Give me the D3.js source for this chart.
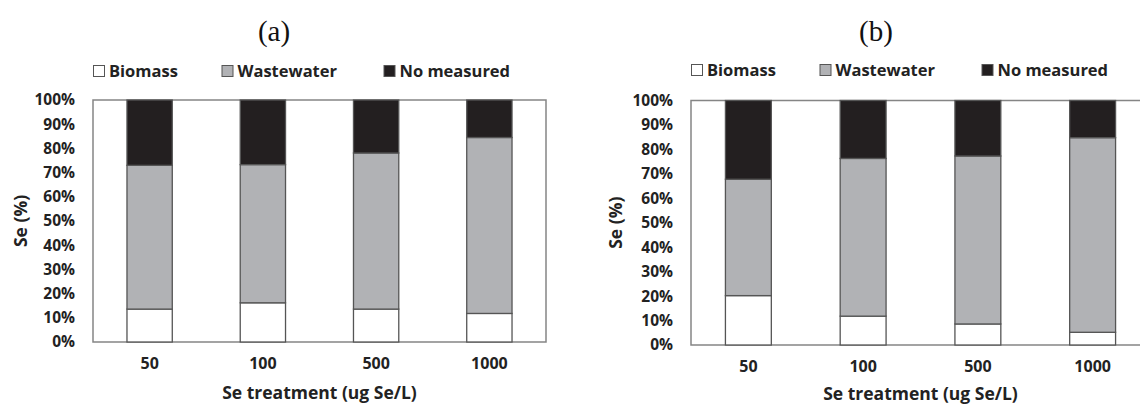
<!DOCTYPE html>
<html>
<head>
<meta charset="utf-8">
<script src="https://cdn.jsdelivr.net/npm/d3@7"></script>
<style>
  body { margin: 0; background: #fff; }
  svg { display: block; }
</style>
</head>
<body>
<div id="chart"></div>
<script>
// data (percent of total Se)
const treatments = ['50', '100', '500', '1000'];
const seriesNames = ['Biomass', 'Wastewater', 'No measured'];
const yTickValues = [0, 10, 20, 30, 40, 50, 60, 70, 80, 90, 100];

const biomassA = [13.6, 16.2, 13.6, 11.8];
const wastewaterA = [59.4, 57.1, 64.5, 72.7];
const noMeasuredA = [27.0, 26.7, 21.9, 15.5];

const biomassB = [20.2, 11.8, 8.6, 5.2];
const wastewaterB = [47.6, 64.5, 68.7, 79.6];
const noMeasuredB = [32.2, 23.7, 22.7, 15.2];

const fontFamily = '"Open Sans", "DejaVu Sans", sans-serif';
const textColor = '#222';
const fills = { 'Biomass': '#ffffff', 'Wastewater': '#b1b2b5', 'No measured': '#231f20' };

const svg = d3.select('#chart')
  .append('svg')
  .attr('width', 1140)
  .attr('height', 406);

function drawPanel(opts) {
  const rows = treatments.map((t, i) => ({
    treatment: t,
    'Biomass': opts.biomass[i],
    'Wastewater': opts.wastewater[i],
    'No measured': opts.noMeasured[i]
  }));

  const stacked = d3.stack().keys(seriesNames)(rows);

  const x = d3.scaleBand()
    .domain(treatments)
    .range([opts.left, opts.right])
    .paddingInner(0.6)
    .paddingOuter(0.3);

  const y = d3.scaleLinear()
    .domain([0, 100])
    .range([opts.bottom, opts.top]);

  const g = svg.append('g');

  // plot area box
  g.append('rect')
    .attr('x', opts.left)
    .attr('y', opts.top)
    .attr('width', opts.right - opts.left)
    .attr('height', opts.bottom - opts.top)
    .attr('fill', 'none')
    .attr('stroke', '#858585')
    .attr('stroke-width', 1.5);

  // stacked bars
  g.selectAll('g.series')
    .data(stacked)
    .enter()
    .append('g')
    .attr('class', 'series')
    .attr('fill', d => fills[d.key])
    .selectAll('rect')
    .data(d => d)
    .enter()
    .append('rect')
    .attr('x', d => x(d.data.treatment))
    .attr('y', d => y(d[1]))
    .attr('width', x.bandwidth())
    .attr('height', d => y(d[0]) - y(d[1]))
    .attr('stroke', '#555')
    .attr('stroke-width', 1.3);

  // y axis labels
  const yAxis = d3.axisLeft(y)
    .tickValues(yTickValues)
    .tickSize(0)
    .tickPadding(18)
    .tickFormat(d => d + '%');

  g.append('g')
    .attr('transform', `translate(${opts.left},0)`)
    .call(yAxis)
    .call(s => s.select('.domain').remove())
    .selectAll('text')
    .attr('font-family', fontFamily)
    .attr('font-weight', 700)
    .attr('font-size', 15.5)
    .attr('fill', textColor);

  // x axis labels
  const xAxis = d3.axisBottom(x)
    .tickSize(0)
    .tickPadding(16);

  g.append('g')
    .attr('transform', `translate(0,${opts.bottom})`)
    .call(xAxis)
    .call(s => s.select('.domain').remove())
    .selectAll('text')
    .attr('font-family', fontFamily)
    .attr('font-weight', 700)
    .attr('font-size', 16)
    .attr('fill', textColor);

  // axis titles
  g.append('text')
    .attr('x', (opts.left + opts.right) / 2)
    .attr('y', opts.xTitleY)
    .attr('text-anchor', 'middle')
    .attr('font-family', fontFamily)
    .attr('font-weight', 700)
    .attr('font-size', 17.5)
    .attr('fill', textColor)
    .text('Se treatment (ug Se/L)');

  g.append('text')
    .attr('transform', `translate(${opts.left - opts.yTitleGap},${(opts.top + opts.bottom) / 2}) rotate(-90)`)
    .attr('text-anchor', 'middle')
    .attr('dy', '0.35em')
    .attr('font-family', fontFamily)
    .attr('font-weight', 700)
    .attr('font-size', 17.5)
    .attr('fill', textColor)
    .text('Se (%)');

  // panel letter
  g.append('text')
    .attr('x', opts.titleX)
    .attr('y', 41)
    .attr('text-anchor', 'middle')
    .attr('font-family', '"Liberation Serif", "Times New Roman", serif')
    .attr('font-size', 29)
    .attr('fill', '#111')
    .text(opts.title);

  // legend
  const legendOffsets = [0, 128.5, 290.5];
  const legend = g.selectAll('g.legend')
    .data(seriesNames)
    .enter()
    .append('g')
    .attr('class', 'legend')
    .attr('transform', (d, i) => `translate(${opts.left + legendOffsets[i]},${opts.legendY})`);

  legend.append('rect')
    .attr('x', 0.5)
    .attr('y', -5.5)
    .attr('width', 11)
    .attr('height', 11)
    .attr('fill', d => fills[d])
    .attr('stroke', '#555')
    .attr('stroke-width', 1);

  legend.append('text')
    .attr('x', 16)
    .attr('dy', '0.35em')
    .attr('font-family', fontFamily)
    .attr('font-weight', 700)
    .attr('font-size', 16.5)
    .attr('fill', textColor)
    .text(d => d);
}

drawPanel({
  title: '(a)', titleX: 274,
  left: 93, right: 546, top: 100, bottom: 342,
  legendY: 71, yTitleGap: 72, xTitleY: 399,
  biomass: biomassA, wastewater: wastewaterA, noMeasured: noMeasuredA
});

drawPanel({
  title: '(b)', titleX: 876,
  left: 691, right: 1150, top: 100.5, bottom: 345,
  legendY: 70, yTitleGap: 75, xTitleY: 400,
  biomass: biomassB, wastewater: wastewaterB, noMeasured: noMeasuredB
});
</script>
</body>
</html>
